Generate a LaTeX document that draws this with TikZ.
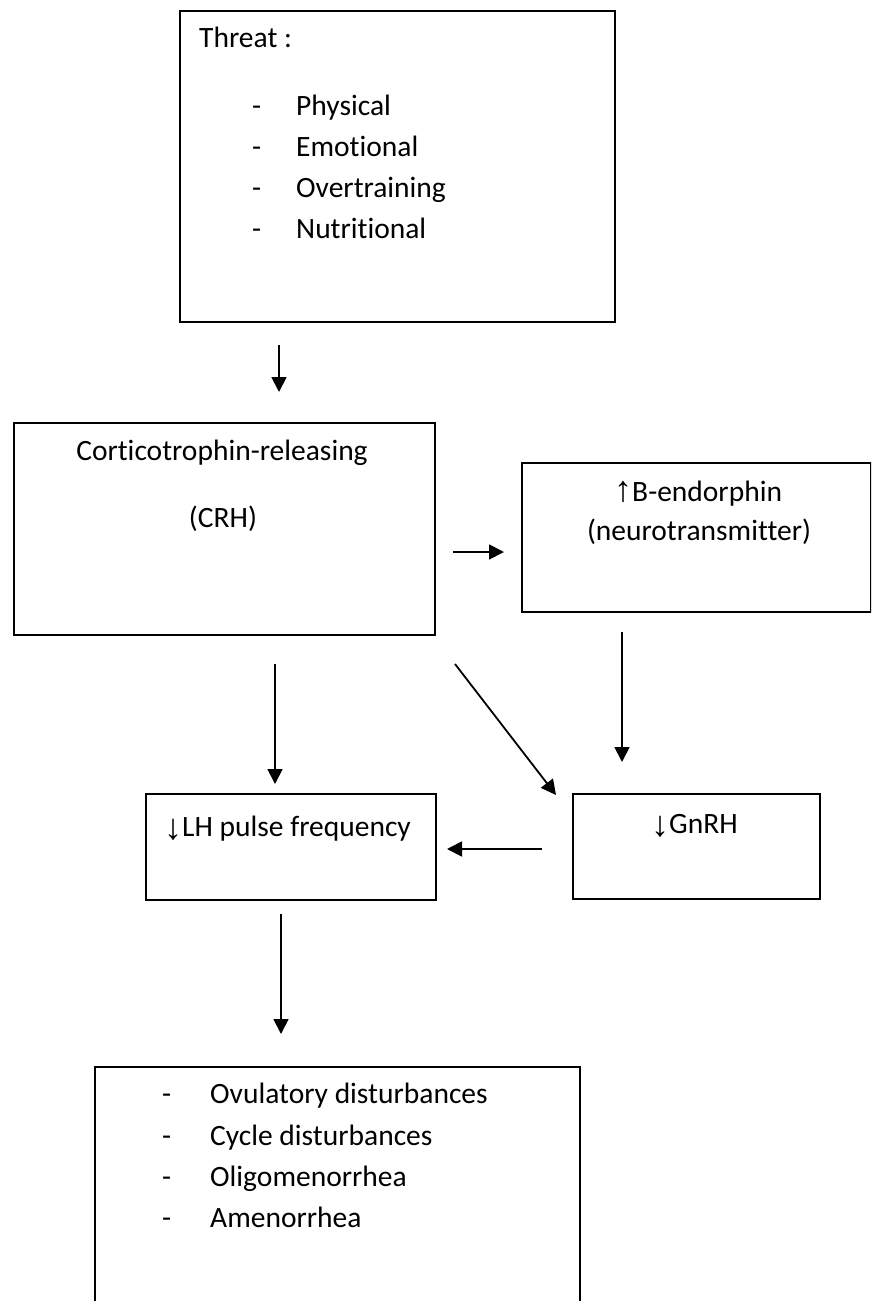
\documentclass[tikz,border=0pt]{standalone}
\usepackage{fontspec}
\setmainfont[Ligatures=NoCommon]{Carlito}
\newfontfamily\arrowfont{Liberation Sans}
\newcommand{\uparr}{\raisebox{0pt}{\arrowfont\fontsize{36}{36}\selectfont ↑}}
\newcommand{\downarr}{\raisebox{-3pt}{\arrowfont\fontsize{36}{36}\selectfont ↓}}
\usetikzlibrary{arrows.meta}
\begin{document}
\begin{tikzpicture}[x=1pt,y=-1pt,
  box/.style={draw,line width=1.6pt,inner sep=0pt,anchor=north west},
  txt/.style={inner sep=0pt,font=\fontsize{29.5}{35}\selectfont},
  conn/.style={line width=1.8pt,-{Triangle[length=15pt,width=15pt]}}]
\clip (0,0) rectangle (871,1301);
\fill[white] (0,0) rectangle (871,1301);
% boxes
\node[box,minimum width=435pt,minimum height=311pt] (threat) at (179,10) {};
\node[box,minimum width=421pt,minimum height=212pt] (crh) at (13,422) {};
\node[box,minimum width=349pt,minimum height=149pt] (bend) at (521,462) {};
\node[box,minimum width=290pt,minimum height=106pt] (lh) at (145,793) {};
\node[box,minimum width=247pt,minimum height=105pt] (gnrh) at (572,793) {};
\node[box,minimum width=485pt,minimum height=300pt] (outcome) at (94,1066) {};
% texts
\node[txt,anchor=base west] (t0) at (199,47) {Threat :};
\node[txt,anchor=base west] (d1) at (252,115) {-};
\node[txt,anchor=base west] (d2) at (252,156) {-};
\node[txt,anchor=base west] (d3) at (252,197) {-};
\node[txt,anchor=base west] (d4) at (252,238) {-};
\node[txt,anchor=base west] (t1) at (296,115) {Physical};
\node[txt,anchor=base west] (t2) at (296,156) {Emotional};
\node[txt,anchor=base west] (t3) at (296,197) {Overtraining};
\node[txt,anchor=base west] (t4) at (296,238) {Nutritional};
\node[txt,anchor=base] (c1) at (222,460) {Corticotrophin-releasing};
\node[txt,anchor=base] (c2) at (223,527) {(CRH)};
\node[txt,anchor=base west] (b1) at (614,501) {\uparr B-endorphin};
\node[txt,anchor=base] (b2) at (699,540) {(neurotransmitter)};
\node[txt,anchor=base west] (l1) at (164,836) {\downarr LH pulse frequency};
\node[txt,anchor=base west] (g1) at (651,833) {\downarr GnRH};
\node[txt,anchor=base west] (e1) at (162,1103) {-};
\node[txt,anchor=base west] (e2) at (162,1145) {-};
\node[txt,anchor=base west] (e3) at (162,1186) {-};
\node[txt,anchor=base west] (e4) at (162,1227) {-};
\node[txt,anchor=base west] (o1) at (210,1103) {Ovulatory disturbances};
\node[txt,anchor=base west] (o2) at (210,1145) {Cycle disturbances};
\node[txt,anchor=base west] (o3) at (210,1186) {Oligomenorrhea};
\node[txt,anchor=base west] (o4) at (210,1227) {Amenorrhea};
% connector ends
\coordinate (a1s) at (279,345); \coordinate (a1e) at (279,392);
\coordinate (a2s) at (453,552); \coordinate (a2e) at (504,552);
\coordinate (a3s) at (275,664); \coordinate (a3e) at (275,784);
\coordinate (a4s) at (455,664); \coordinate (a4e) at (556,795);
\coordinate (a5s) at (622,632); \coordinate (a5e) at (622,762);
\coordinate (a6s) at (542,849); \coordinate (a6e) at (447,849);
\coordinate (a7s) at (281,914); \coordinate (a7e) at (281,1034);
\draw[conn] (a1s) -- (a1e);
\draw[conn] (a2s) -- (a2e);
\draw[conn] (a3s) -- (a3e);
\draw[conn] (a4s) -- (a4e);
\draw[conn] (a5s) -- (a5e);
\draw[conn] (a6s) -- (a6e);
\draw[conn] (a7s) -- (a7e);
\end{tikzpicture}
\end{document}
